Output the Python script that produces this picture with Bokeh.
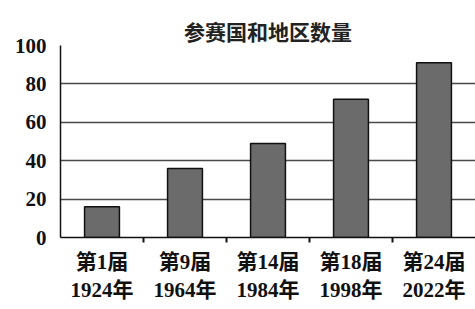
from bokeh.plotting import figure
from bokeh.models import FixedTicker, Range1d
from bokeh.embed import file_html
from bokeh.resources import INLINE

title = "参赛国和地区数量"
sessions = ["第1届", "第9届", "第14届", "第18届", "第24届"]
years = ["1924年", "1964年", "1984年", "1998年", "2022年"]
counts = [16, 36, 49, 72, 91]
y_ticks = [0, 20, 40, 60, 80, 100]

FONT = "'Liberation Serif', 'Noto Sans CJK SC', serif"

xs = [i + 0.5 for i in range(len(sessions))]
labels = {x: f"{s}\n{y}" for x, s, y in zip(xs, sessions, years)}

p = figure(width=475, height=309, output_backend="svg", toolbar_location=None,
           x_range=Range1d(0, len(sessions)), y_range=Range1d(0, 100),
           min_border_left=60, min_border_right=0, min_border_top=45, min_border_bottom=72)
p.title.text = title
p.title.align = "center"
p.title.text_font = FONT
p.title.text_font_size = "21px"
p.title.text_font_style = "bold"
p.title.text_color = "#222222"
p.title.offset = 6
p.title.standoff = 2

p.vbar(x=xs, top=counts, width=0.42, fill_color="#6b6b6b", line_color="#111111", line_width=1.5)

p.outline_line_color = None
p.xgrid.grid_line_color = None
p.ygrid.ticker = FixedTicker(ticks=y_ticks)
p.ygrid.grid_line_color = "#4a4a4a"
p.ygrid.grid_line_width = 1.4

p.yaxis.ticker = FixedTicker(ticks=y_ticks)
p.yaxis.major_tick_line_color = None
p.yaxis.minor_tick_line_color = None
p.yaxis.axis_line_color = "#111111"
p.yaxis.axis_line_width = 1.5
p.yaxis.major_label_text_font = FONT
p.yaxis.major_label_text_font_size = "21px"
p.yaxis.major_label_text_font_style = "bold"
p.yaxis.major_label_text_color = "#111111"
p.yaxis.major_label_standoff = 8

p.xaxis.ticker = FixedTicker(ticks=xs, minor_ticks=[1, 2, 3, 4])
p.xaxis.major_label_overrides = labels
p.xaxis.major_tick_line_color = None
p.xaxis.minor_tick_line_color = "#111111"
p.xaxis.minor_tick_out = 5
p.xaxis.minor_tick_in = 0
p.xaxis.minor_tick_line_width = 2
p.xaxis.axis_line_color = "#111111"
p.xaxis.axis_line_width = 1.5
p.xaxis.major_label_text_font = FONT
p.xaxis.major_label_text_font_size = "21px"
p.xaxis.major_label_text_font_style = "bold"
p.xaxis.major_label_text_color = "#111111"
p.xaxis.major_label_text_line_height = 1.2
p.xaxis.major_label_standoff = 6

open("out.html", "w").write(file_html(p, INLINE))
